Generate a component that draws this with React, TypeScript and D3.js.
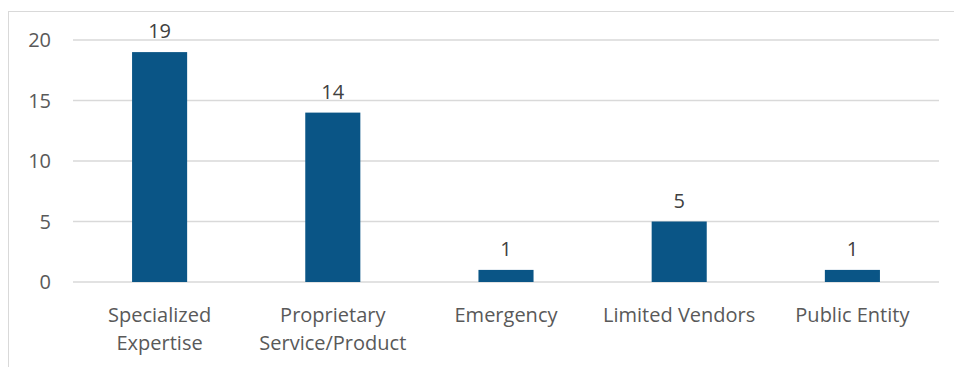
import React from "react";
import * as d3 from "d3";

const categories = ["Specialized Expertise", "Proprietary Service/Product", "Emergency", "Limited Vendors", "Public Entity"];
const categoryLines = [["Specialized", "Expertise"], ["Proprietary", "Service/Product"], ["Emergency"], ["Limited Vendors"], ["Public Entity"]];
const values = [19, 14, 1, 5, 1];
const yTicks = [0, 5, 10, 15, 20];

export default function App() {
  const W = 954, H = 367;
  const left = 73, right = 939, top = 40, bottom = 282;
  const x = d3.scaleBand<string>().domain(categories).range([left, right]).paddingInner(0.682).paddingOuter(0.341);
  const y = d3.scaleLinear().domain([0, 20]).range([bottom, top]);
  const font = "Open Sans, sans-serif";
  const textColor = "#595959";
  const fs = 20;
  return (
    <svg width={W} height={H} style={{ position: "absolute", left: 0, top: 0 }}>
      <rect x={8.5} y={11.5} width={W} height={H} fill="#fff" stroke="#d9d9d9" strokeWidth={1} />
      {yTicks.map((t) => (
        <g key={t}>
          <line x1={left} x2={right} y1={y(t)} y2={y(t)} stroke="#d9d9d9" strokeWidth={1.5} />
          <text x={51} y={y(t)} dy="0.36em" textAnchor="end" fontFamily={font} fontSize={fs} fill={textColor}>{t}</text>
        </g>
      ))}
      {categories.map((c, i) => (
        <g key={c}>
          <rect x={x(c)} y={y(values[i])} width={x.bandwidth()} height={y(0) - y(values[i])} fill="#0a5586" />
          <text x={(x(c) as number) + x.bandwidth() / 2} y={y(values[i]) - 14} textAnchor="middle" fontFamily={font} fontSize={fs} fill="#404040">{values[i]}</text>
          {categoryLines[i].map((ln, j) => (
            <text key={j} x={(x(c) as number) + x.bandwidth() / 2} y={322 + j * 28} textAnchor="middle" fontFamily={font} fontSize={fs} fill={textColor}>{ln}</text>
          ))}
        </g>
      ))}
    </svg>
  );
}
